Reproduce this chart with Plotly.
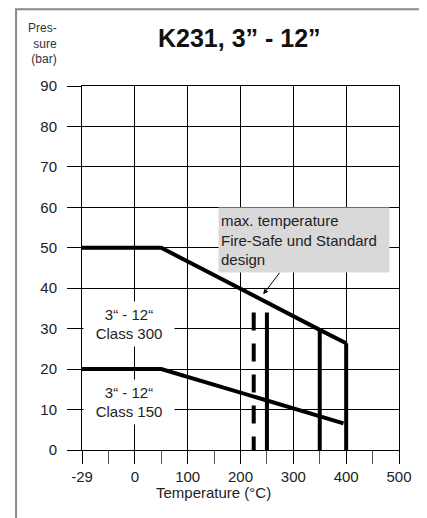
import numpy as np
import plotly.graph_objects as go

# ---- data ----
x_tick_temps = [-29, 0, 100, 200, 300, 400, 500]
x_tick_labels = ["-29", "0", "100", "200", "300", "400", "500"]
x_minor_temps = [-14.5, 50, 150, 250, 350, 450]
y_ticks = [0, 10, 20, 30, 40, 50, 60, 70, 80, 90]

class300_temp = [-29, 50, 350, 400]
class300_bar = [50, 50, 29.7, 26.4]

class150_temp = [-29, 50, 395]
class150_bar = [20, 20, 6.6]

limit_temp = [225, 250, 350, 400]
limit_bar = [34, 34, 29.7, 26.4]
limit_dash = ["18px,13px", "solid", "solid", "solid"]

arrow_temp = 243
arrow_bar = 38.5


def temp_to_axis(t):
    t = np.asarray(t, dtype=float)
    return np.where(t <= 0, (t + 29) / 29, 1 + t / 100)


FONT = "Liberation Sans, Arial, Helvetica, sans-serif"

fig = go.Figure()

fig.add_trace(go.Scatter(x=temp_to_axis(class300_temp), y=class300_bar, mode="lines",
                         line=dict(color="black", width=4), hoverinfo="skip"))
fig.add_trace(go.Scatter(x=temp_to_axis(class150_temp), y=class150_bar, mode="lines",
                         line=dict(color="black", width=4), hoverinfo="skip"))
for t, b, d in zip(limit_temp, limit_bar, limit_dash):
    fig.add_trace(go.Scatter(x=temp_to_axis([t, t]), y=[b, 0], mode="lines",
                             line=dict(color="black", width=4, dash=d), hoverinfo="skip"))

# page body has an 8px margin, so the figure is sized/offset to compensate
fig.update_layout(
    width=419, height=510, autosize=False,
    margin=dict(l=74, r=28, t=78, b=68),
    paper_bgcolor="white", plot_bgcolor="white",
    showlegend=False,
    font=dict(family=FONT, size=15, color="#222"),
)

fig.update_xaxes(
    range=[0, 6], tickmode="array",
    tickvals=temp_to_axis(x_tick_temps), ticktext=x_tick_labels,
    showgrid=True, gridcolor="black", gridwidth=1,
    showline=True, linecolor="black", linewidth=1, mirror=True,
    ticks="outside", ticklen=13, tickcolor="black", tickwidth=1,
    zeroline=False,
    tickfont=dict(size=15, color="#222"),
    minor=dict(tickmode="array", tickvals=temp_to_axis(x_minor_temps),
               ticks="outside", ticklen=13, tickcolor="#555", tickwidth=1.3, showgrid=False),
)
fig.update_yaxes(
    range=[0, 90], tickmode="array", tickvals=y_ticks,
    showgrid=True, gridcolor="black", gridwidth=1,
    showline=True, linecolor="black", linewidth=1, mirror=True,
    ticks="outside", ticklen=14, tickcolor="black", tickwidth=1,
    zeroline=False, ticklabelstandoff=7,
    tickfont=dict(size=15, color="#222"),
)

# outer frame
fig.add_shape(type="rect", xref="paper", yref="paper",
              x0=-0.208, x1=1.069, y0=-0.35, y1=1.211,
              line=dict(color="#888", width=2), fillcolor="rgba(0,0,0,0)", layer="below")

# title
fig.add_annotation(text="<b>K231, 3” - 12”</b>", xref="paper", yref="paper",
                   x=0.498, y=1.133, xanchor="center", yanchor="middle",
                   showarrow=False, font=dict(size=25, color="#111"))
# y label
fig.add_annotation(text="Pres-<br>sure<br>(bar)", xref="paper", yref="paper",
                   x=-0.0726, y=1.118, xanchor="right", yanchor="middle", align="right",
                   showarrow=False, font=dict(size=12, color="#333"))
# x label
fig.add_annotation(text="Temperature (°C)", xref="paper", yref="paper",
                   x=0.416, y=-0.118, xanchor="center", yanchor="middle",
                   showarrow=False, font=dict(size=15, color="#222"))

# class labels
fig.add_annotation(text="3“ - 12“<br>Class 300", xref="paper", yref="y",
                   x=0.148, y=31.2, xanchor="center", yanchor="middle",
                   showarrow=False, bgcolor="white",
                   width=88, height=42, borderpad=1, font=dict(size=15, color="#222"))
fig.add_annotation(text="3“ - 12“<br>Class 150", xref="paper", yref="y",
                   x=0.148, y=11.9, xanchor="center", yanchor="middle",
                   showarrow=False, bgcolor="white",
                   width=88, height=42, borderpad=1, font=dict(size=15, color="#222"))

# max temperature callout
fig.add_annotation(text="max. temperature<br>Fire-Safe und Standard<br>design",
                   x=float(temp_to_axis(arrow_temp)), y=arrow_bar, ax=41, ay=-54,
                   showarrow=True, arrowhead=2, arrowsize=1, arrowwidth=1, arrowcolor="black",
                   align="left", bgcolor="#d9d9d9", width=166, height=60, borderpad=2,
                   font=dict(size=15, color="#222"))

fig.write_html("out.html")
